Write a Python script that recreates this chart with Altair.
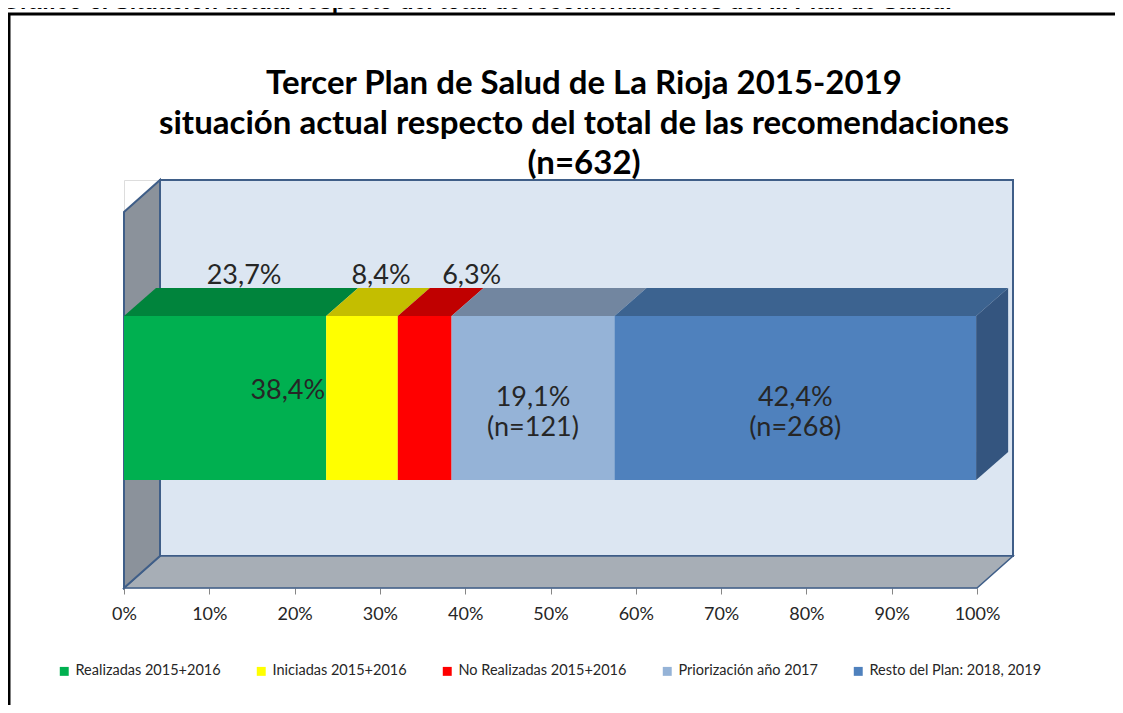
import altair as alt
import pandas as pd

# ---------------- data ----------------
categories = ["Realizadas 2015+2016", "Iniciadas 2015+2016", "No Realizadas 2015+2016",
              "Priorización año 2017", "Resto del Plan: 2018, 2019"]
values = [23.7, 8.4, 6.3, 19.1, 42.4]          # percent of recommendations
front_colors = ["#00B050", "#FFFF00", "#FF0000", "#95B3D7", "#4F81BD"]
top_colors = ["#00843C", "#C4BE00", "#C00000", "#7286A0", "#3C6390"]
side_color = "#34557F"
top_labels = ["23,7%", "8,4%", "6,3%"]
inner_labels = ["38,4%", "19,1%\n(n=121)", "42,4%\n(n=268)"]
x_ticks = [0, 0.1, 0.2, 0.3, 0.4, 0.5, 0.6, 0.7, 0.8, 0.9, 1.0]
title_text = ("Tercer Plan de Salud de La Rioja 2015-2019\n"
              "situación actual respecto del total de las recomendaciones\n"
              "(n=632)")
caption = "Gráfico 6. Situación actual respecto del total de recomendaciones del III Plan de Salud."

# ---------------- 3D geometry (fractions of the scales) ----------------
WALL_DX, WALL_DY = 36 / 853, 32 / 376
BAR_Y0, BAR_Y1 = 108 / 376, 272 / 376
BAR_DX, BAR_DY = 32 / 853, 28 / 376
Y_TOP = 1 + WALL_DY

FONT = "Lato"
EDGE = "#3F5E88"

xs = alt.Scale(domain=[0, 1], nice=False, zero=False)
ys = alt.Scale(domain=[0, Y_TOP], nice=False, zero=False)
xaxis = alt.Axis(values=x_ticks, format=".0%", grid=False, domain=False, title=None,
                 tickColor="#868686", tickSize=6, tickWidth=1, labelFlush=False,
                 labelOverlap=False,
                 labelFont=FONT, labelFontSize=18, labelColor="#262626", labelPadding=11)

# segments
starts, ends, acc = [], [], 0.0
for v in values:
    starts.append(acc / 100)
    acc += v
    ends.append(acc / 100)
seg = pd.DataFrame({"category": categories, "start": starts, "end": ends,
                    "y0": BAR_Y0, "y1": BAR_Y1})

top_rows = []
for c, s, e, tc in zip(categories, starts, ends, top_colors):
    top_rows.append({"category": c, "y": BAR_Y1, "xa": s, "xb": e, "col": tc})
    top_rows.append({"category": c, "y": BAR_Y1 + BAR_DY, "xa": s + BAR_DX, "xb": e + BAR_DX, "col": tc})
tops = pd.DataFrame(top_rows)

side = pd.DataFrame({"x": [ends[-1], ends[-1] + BAR_DX],
                     "ya": [BAR_Y0, BAR_Y0 + BAR_DY], "yb": [BAR_Y1, BAR_Y1 + BAR_DY]})

back = pd.DataFrame({"x": [WALL_DX], "x2": [1 + WALL_DX], "y": [WALL_DY], "y2": [1 + WALL_DY]})
leftw = pd.DataFrame({"x": [0, WALL_DX], "ya": [0, WALL_DY], "yb": [1, 1 + WALL_DY]})
floor = pd.DataFrame({"y": [0, WALL_DY], "xa": [0, WALL_DX], "xb": [1, 1 + WALL_DX]})

top_lab = pd.DataFrame({"label": top_labels,
                        "x": [(starts[i] + ends[i]) / 2 + BAR_DX / 2 for i in range(3)],
                        "y": BAR_Y1 + BAR_DY})
inner_lab = pd.DataFrame({"label": inner_labels,
                          "x": [ends[2] / 2, (starts[3] + ends[3]) / 2, (starts[4] + ends[4]) / 2],
                          "y": (BAR_Y0 + BAR_Y1) / 2})

# ---------------- layers ----------------
frame_left = alt.Chart(pd.DataFrame({"a": [0]})).mark_rule(color="black", strokeWidth=3).encode(
    x=alt.value(-115), y=alt.value(-167), y2=alt.value(540))
frame_top = alt.Chart(pd.DataFrame({"a": [0]})).mark_rule(color="black", strokeWidth=3).encode(
    x=alt.value(-116), x2=alt.value(1010), y=alt.value(-166))
cap = alt.Chart(pd.DataFrame({"t": [caption]})).mark_text(
    font="Liberation Sans", fontWeight="bold", fontSize=23, align="left", baseline="alphabetic",
    color="black").encode(x=alt.value(-122), y=alt.value(-171), text="t:N")
title = alt.Chart(pd.DataFrame({"t": [title_text]})).mark_text(
    font=FONT, fontWeight="bold", fontSize=33, align="center", baseline="top", lineBreak="\n",
    lineHeight=40, color="black").encode(x=alt.value(460), y=alt.value(-112), text="t:N")

back_wall = alt.Chart(back).mark_rect(fill="#DCE6F2", stroke=EDGE, strokeWidth=2).encode(
    x=alt.X("x:Q", scale=xs, axis=xaxis), x2="x2:Q",
    y=alt.Y("y:Q", scale=ys, axis=None), y2="y2:Q")
floor_l = alt.Chart(floor).mark_area(orient="horizontal", fill="#A7AEB6", stroke=EDGE, strokeWidth=1.5).encode(
    y=alt.Y("y:Q", scale=ys, axis=None), x=alt.X("xa:Q", scale=xs, axis=xaxis), x2="xb:Q")
left_l = alt.Chart(leftw).mark_area(orient="vertical", fill="#8B929B", stroke=EDGE, strokeWidth=2).encode(
    x=alt.X("x:Q", scale=xs, axis=xaxis), y=alt.Y("ya:Q", scale=ys, axis=None), y2="yb:Q")

fronts = alt.Chart(seg).mark_rect().encode(
    x=alt.X("start:Q", scale=xs, axis=xaxis), x2="end:Q",
    y=alt.Y("y0:Q", scale=ys, axis=None), y2="y1:Q",
    color=alt.Color("category:N", scale=alt.Scale(domain=categories, range=front_colors),
                    legend=alt.Legend(title=None, orient="none", legendX=-67, legendY=484,
                                      direction="horizontal", symbolType="square", symbolSize=80,
                                      symbolStrokeWidth=0, labelFont=FONT, labelFontSize=14.5,
                                      labelColor="#262626", columnPadding=33, labelOffset=4,
                                      labelLimit=400, padding=0)))
top_faces = alt.Chart(tops).mark_area(orient="horizontal").encode(
    y=alt.Y("y:Q", scale=ys, axis=None), x=alt.X("xa:Q", scale=xs, axis=xaxis), x2="xb:Q",
    detail="category:N", fill=alt.Fill("col:N", scale=None))
side_face = alt.Chart(side).mark_area(orient="vertical", fill=side_color).encode(
    x=alt.X("x:Q", scale=xs, axis=xaxis), y=alt.Y("ya:Q", scale=ys, axis=None), y2="yb:Q")

lab_top_a = alt.Chart(top_lab.iloc[:2]).mark_text(
    font=FONT, fontSize=27, color="#262626", baseline="middle", dy=-12, dx=3).encode(
    x=alt.X("x:Q", scale=xs, axis=xaxis), y=alt.Y("y:Q", scale=ys, axis=None), text="label:N")
lab_top_b = alt.Chart(top_lab.iloc[2:]).mark_text(
    font=FONT, fontSize=27, color="#262626", baseline="middle", dy=-12, dx=31).encode(
    x=alt.X("x:Q", scale=xs, axis=xaxis), y=alt.Y("y:Q", scale=ys, axis=None), text="label:N")
lab_in_a = alt.Chart(inner_lab.iloc[:1]).mark_text(
    font=FONT, fontSize=27, color="#262626", baseline="middle", dy=-7).encode(
    x=alt.X("x:Q", scale=xs, axis=xaxis), y=alt.Y("y:Q", scale=ys, axis=None), text="label:N")
lab_in_b = alt.Chart(inner_lab.iloc[1:]).mark_text(
    font=FONT, fontSize=27, color="#262626", baseline="middle", lineBreak="\n", lineHeight=30).encode(
    x=alt.X("x:Q", scale=xs, axis=xaxis), y=alt.Y("y:Q", scale=ys, axis=None), text="label:N")

chart = alt.layer(frame_left, frame_top, cap, title, back_wall, floor_l, left_l, fronts,
                  top_faces, side_face, lab_top_a, lab_top_b, lab_in_a, lab_in_b).properties(
    width=853, height=408,
    autosize=alt.AutoSizeParams(type="none"),
    padding={"left": 116, "top": 172, "right": 138, "bottom": 117},
).configure_view(stroke=None).configure(background="white")

chart.save("out.html", embed_options={"renderer": "svg", "actions": False})
